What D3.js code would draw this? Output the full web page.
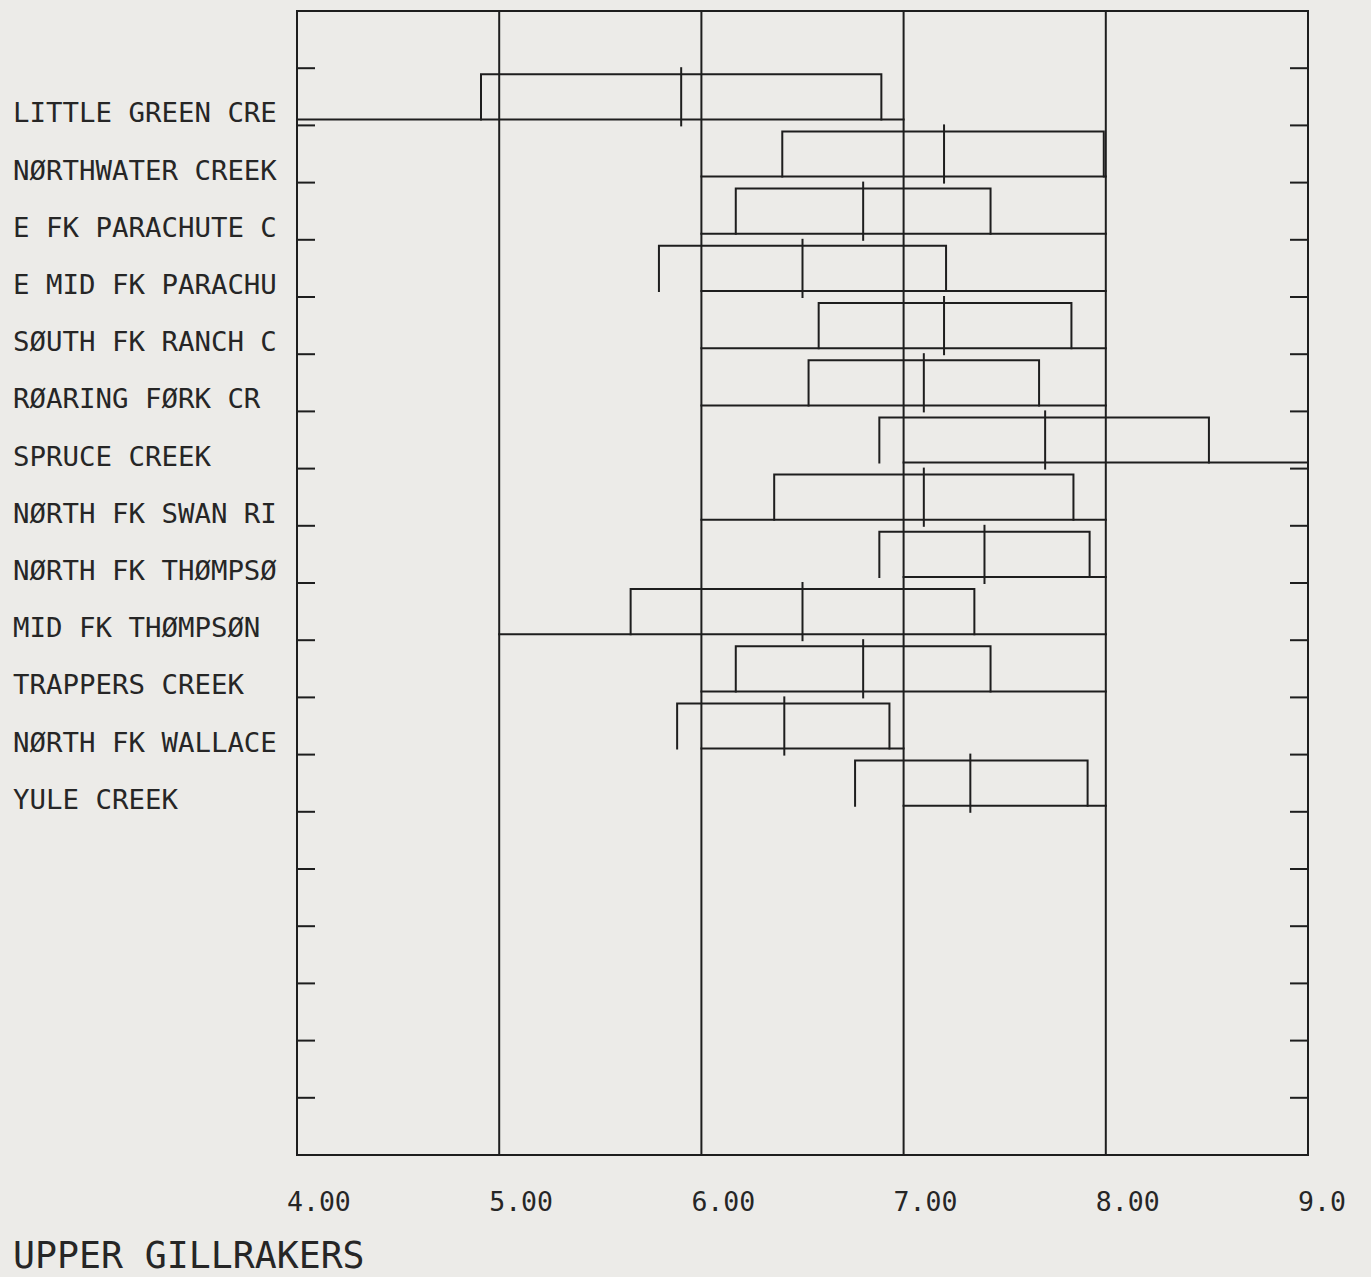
<!DOCTYPE html>
<html>
<head>
<meta charset="utf-8">
<script src="https://cdn.jsdelivr.net/npm/d3@7"></script>
<style>
  html, body { margin: 0; padding: 0; background: #ecebe8; }
  svg text { font-family: "DejaVu Sans Mono", "Liberation Mono", monospace; fill: #262626; }
</style>
</head>
<body>
<svg id="chart" width="1371" height="1277"></svg>
<script>
// streams, top to bottom
const streams = ["LITTLE GREEN CRE", "NØRTHWATER CREEK", "E FK PARACHUTE C", "E MID FK PARACHU",
  "SØUTH FK RANCH C", "RØARING FØRK CR", "SPRUCE CREEK", "NØRTH FK SWAN RI",
  "NØRTH FK THØMPSØ", "MID FK THØMPSØN", "TRAPPERS CREEK", "NØRTH FK WALLACE", "YULE CREEK"];
// mean count (centre tick) and the box around it
const means   = [5.90, 7.20, 6.80, 6.50, 7.20, 7.10, 7.70, 7.10, 7.40, 6.50, 6.80, 6.41, 7.33];
const boxLow  = [4.91, 6.40, 6.17, 5.79, 6.58, 6.53, 6.88, 6.36, 6.88, 5.65, 6.17, 5.88, 6.76];
const boxHigh = [6.89, 7.99, 7.43, 7.21, 7.83, 7.67, 8.51, 7.84, 7.92, 7.35, 7.43, 6.93, 7.91];
// observed range of counts (bottom line)
const rangeMin = [4, 6, 6, 6, 6, 6, 7, 6, 7, 5, 6, 6, 7];
const rangeMax = [7, 8, 8, 8, 8, 8, 9, 8, 8, 8, 8, 7, 8];

const xTicks = [4, 5, 6, 7, 8, 9];
const xTickLabels = ["4.00", "5.00", "6.00", "7.00", "8.00", "9.0"];
const title = "UPPER GILLRAKERS";

const svg = d3.select("#chart");
const plotL = 297, plotR = 1308, plotT = 11, plotB = 1155;
const slots = 20;

const x = d3.scaleLinear().domain([4, 9]).range([plotL, plotR]);
const y = d3.scaleLinear().domain([0, slots]).range([plotT, plotB]);

const ink = "#1e1e1e";
const g = svg.append("g")
  .attr("stroke", ink).attr("stroke-width", 2).attr("fill", "none")
  .attr("stroke-linecap", "square");

// frame
g.append("rect")
  .attr("x", plotL).attr("y", plotT)
  .attr("width", plotR - plotL).attr("height", plotB - plotT);

// gridlines at interior x ticks
g.selectAll(".grid").data(xTicks.slice(1, -1)).enter().append("line")
  .attr("x1", d => x(d)).attr("x2", d => x(d))
  .attr("y1", plotT).attr("y2", plotB);

// side ticks
const yTicks = d3.range(1, slots);
g.selectAll(".lt").data(yTicks).enter().append("line")
  .attr("x1", plotL).attr("x2", plotL + 17)
  .attr("y1", d => y(d)).attr("y2", d => y(d));
g.selectAll(".rt").data(yTicks).enter().append("line")
  .attr("x1", plotR - 17).attr("x2", plotR)
  .attr("y1", d => y(d)).attr("y2", d => y(d));

const rows = streams.map((s, i) => ({
  name: s, mean: means[i], lo: boxLow[i], hi: boxHigh[i],
  rmin: rangeMin[i], rmax: rangeMax[i], i: i
}));

const inset = 6;
const row = g.selectAll(".row").data(rows).enter().append("g");

// open box: left side, top, right side
row.append("path")
  .attr("d", d => {
    const y0 = y(d.i + 1) + inset, y1 = y(d.i + 2) - inset;
    return `M${x(d.lo)},${y1}V${y0}H${x(d.hi)}V${y1}`;
  });

// range line
row.append("line")
  .attr("x1", d => x(d.rmin)).attr("x2", d => x(d.rmax))
  .attr("y1", d => y(d.i + 2) - inset).attr("y2", d => y(d.i + 2) - inset);

// mean tick
row.append("line")
  .attr("x1", d => x(d.mean)).attr("x2", d => x(d.mean))
  .attr("y1", d => y(d.i + 1)).attr("y2", d => y(d.i + 2));

// stream labels
svg.selectAll(".lab").data(rows).enter().append("text")
  .attr("x", 13)
  .attr("y", d => y(d.i + 2) - 3)
  .attr("font-size", 27.4)
  .text(d => d.name);

// x tick labels
svg.selectAll(".xl").data(xTicks).enter().append("text")
  .attr("x", d => x(d) - 10)
  .attr("y", 1211)
  .attr("font-size", 26.5)
  .text((d, i) => xTickLabels[i]);

svg.append("text")
  .attr("x", 13).attr("y", 1268)
  .attr("font-size", 36.5)
  .text(title);
</script>
</body>
</html>
